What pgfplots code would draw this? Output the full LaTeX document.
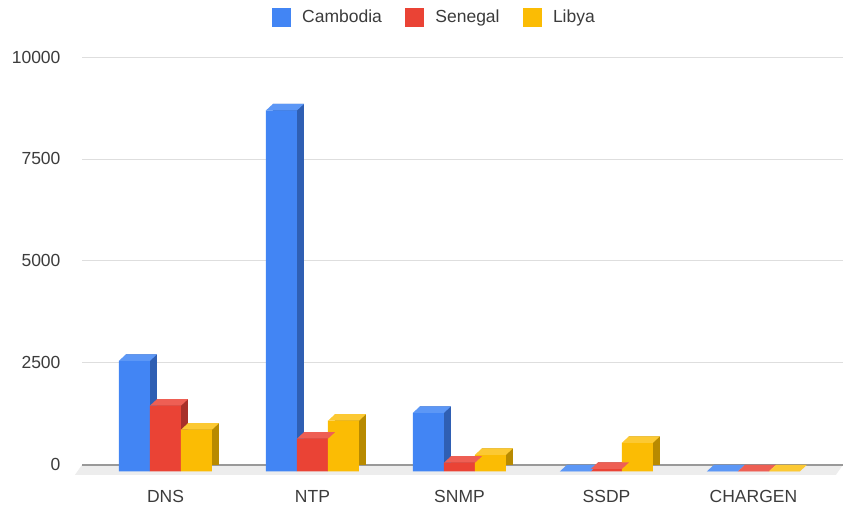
\documentclass[border=0pt]{standalone}
\usepackage{fontspec}
\setmainfont{Liberation Sans}
\usepackage{pgfplots}
\pgfplotsset{compat=1.18}
\definecolor{cblue}{HTML}{4285F4}
\definecolor{cblueS}{HTML}{2F5FB3}
\definecolor{cblueT}{HTML}{5C97F6}
\definecolor{cred}{HTML}{EA4335}
\definecolor{credS}{HTML}{A8302A}
\definecolor{credT}{HTML}{EE5F54}
\definecolor{cyel}{HTML}{FBBC04}
\definecolor{cyelS}{HTML}{B88A00}
\definecolor{cyelT}{HTML}{FCC933}
\definecolor{txt}{HTML}{3C3C3C}
\pgfdeclareplotmark{topface}{%
  \pgfpathmoveto{\pgfqpoint{-15.5pt}{0pt}}%
  \pgfpathlineto{\pgfqpoint{15.5pt}{0pt}}%
  \pgfpathlineto{\pgfqpoint{22.5pt}{6.5pt}}%
  \pgfpathlineto{\pgfqpoint{-8.5pt}{6.5pt}}%
  \pgfpathclose
  \pgfusepathqfill}
\newcommand\series[5]{%
  \addplot[ybar, bar width=31pt, bar shift=#1, fill=#3, draw=none, xshift=7pt, forget plot] coordinates {#5};
  \addplot[ybar, bar width=31pt, bar shift=#1, fill=#2, draw=none, yshift=-6.5pt, forget plot] coordinates {#5};
  \addplot[only marks, mark=topface, mark options={fill=#4, draw=none}, xshift=#1, yshift=-6.5pt, forget plot] coordinates {#5};
}
\begin{document}
\begin{tikzpicture}
\useasboundingbox (0,0) rectangle (846pt,508pt);
\begin{axis}[
  at={(82pt,33pt)}, anchor=south west,
  scale only axis, width=761pt, height=418pt,
  xmin=-0.568, xmax=4.609, ymin=-250, ymax=10000,
  xtick={0,1,2,3,4}, xticklabels={DNS,NTP,SNMP,SSDP,CHARGEN},
  ytick={0,2500,5000,7500,10000},
  ymajorgrids, grid style={draw=black!13, line width=0.8pt},
  axis line style={draw=none}, major tick length=0pt,
  tick label style={font=\fontsize{17.5}{20}\selectfont, text=txt},
  /pgf/number format/assume math mode=true,
  scaled y ticks=false,
  yticklabel style={/pgf/number format/1000 sep={}, xshift=-18pt},
  xticklabel style={yshift=-12pt},
  clip=false,
  legend style={at={(axis description cs:0.463,1.0957)}, anchor=center, draw=none,
    legend columns=-1, font=\fontsize{17.5}{20}\selectfont, text=txt,
    /tikz/every odd column/.append style={column sep=10pt},
    /tikz/every even column/.append style={column sep=21pt}},
]
\fill[black!7] (axis cs:-0.568,0) -- (axis cs:4.609,0) -- ([xshift=-7pt,yshift=-10pt]axis cs:4.609,0) -- ([xshift=-7pt,yshift=-10pt]axis cs:-0.568,0) -- cycle;
\draw[black!40, line width=2pt] (axis cs:-0.568,0) -- (axis cs:4.609,0);
\series{-31pt}{cblue}{cblueS}{cblueT}{(0,2710) (1,8850) (2,1435) (3,0) (4,0)}
\series{0pt}{cred}{credS}{credT}{(0,1610) (1,800) (2,210) (3,60) (4,0)}
\series{31pt}{cyel}{cyelS}{cyelT}{(0,1020) (1,1240) (2,405) (3,700) (4,0)}
\addlegendimage{legend image code/.code={\fill[cblue] (0pt,-9pt) rectangle (18pt,9pt);}}
\addlegendentry{Cambodia}
\addlegendimage{legend image code/.code={\fill[cred] (0pt,-9pt) rectangle (18pt,9pt);}}
\addlegendentry{Senegal}
\addlegendimage{legend image code/.code={\fill[cyel] (0pt,-9pt) rectangle (18pt,9pt);}}
\addlegendentry{Libya}
\end{axis}
\end{tikzpicture}
\end{document}
